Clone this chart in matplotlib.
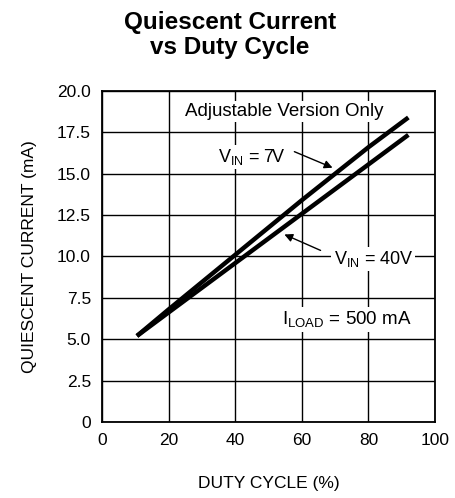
import numpy as np
import matplotlib.pyplot as plt

# duty cycle (%) and quiescent current (mA)
duty = [10.5, 20, 30, 40, 50, 60, 70, 80, 92]
iq_7v = [5.2, 6.8, 8.45, 10.1, 11.75, 13.4, 15.0, 16.6, 18.4]
iq_40v = [5.2, 6.62, 8.11, 9.6, 11.09, 12.58, 14.07, 15.56, 17.35]

x_ticks = [0, 20, 40, 60, 80, 100]
y_ticks = [0, 2.5, 5.0, 7.5, 10.0, 12.5, 15.0, 17.5, 20.0]
y_labels = ['0', '2.5', '5.0', '7.5', '10.0', '12.5', '15.0', '17.5', '20.0']

plt.rcParams['font.family'] = ['Liberation Sans', 'DejaVu Sans']

fig = plt.figure(figsize=(4.56, 4.98), dpi=100)
ax = fig.add_axes([102 / 456, 1 - 422 / 498, 333 / 456, 331 / 498])

ax.plot(duty, iq_7v, color='black', lw=3.2, solid_capstyle='butt', zorder=3)
ax.plot(duty, iq_40v, color='black', lw=3.2, solid_capstyle='butt', zorder=3)

ax.set_xlim(0, 100)
ax.set_ylim(0, 20)
ax.set_xticks(x_ticks)
ax.set_yticks(y_ticks)
ax.set_yticklabels(y_labels)
ax.tick_params(length=0, labelsize=12.5, pad=8)
ax.grid(True, color='black', lw=1.0)
for s in ax.spines.values():
    s.set_linewidth(1.3)

ax.set_xlabel('DUTY CYCLE (%)', fontsize=12.5, labelpad=20)
ax.set_ylabel('QUIESCENT CURRENT (mA)', fontsize=12.5, labelpad=14)

box = dict(facecolor='white', edgecolor='none', pad=1.5)
ax.text(54.8, 18.75, 'Adjustable Version Only', fontsize=13.5, ha='center',
        va='center', bbox=box, zorder=4)
ax.text(45, 16.0, r'V$_{\mathregular{IN}}$ = 7V', fontsize=13, ha='center',
        va='center', bbox=box, zorder=4)
ax.annotate('', xy=(70, 15.3), xytext=(57, 16.4),
            arrowprops=dict(arrowstyle='-|>', color='black', lw=1.0,
                            mutation_scale=12), zorder=4)
ax.text(81.5, 9.85, r'V$_{\mathregular{IN}}$ = 40V', fontsize=13, ha='center',
        va='center', bbox=box, zorder=4)
ax.annotate('', xy=(54, 11.4), xytext=(66.4, 10.3),
            arrowprops=dict(arrowstyle='-|>', color='black', lw=1.0,
                            mutation_scale=12), zorder=4)
ax.text(73.5, 6.2, r'I$_{\mathregular{LOAD}}$ = 500 mA', fontsize=13.5,
        ha='center', va='center', bbox=box, zorder=4)

fig.text(230 / 456, 1 - 35 / 498, 'Quiescent Current\nvs Duty Cycle',
         ha='center', va='center', fontsize=17.5, fontweight='bold',
         linespacing=1.15)

fig.savefig('out.png', dpi=100)
